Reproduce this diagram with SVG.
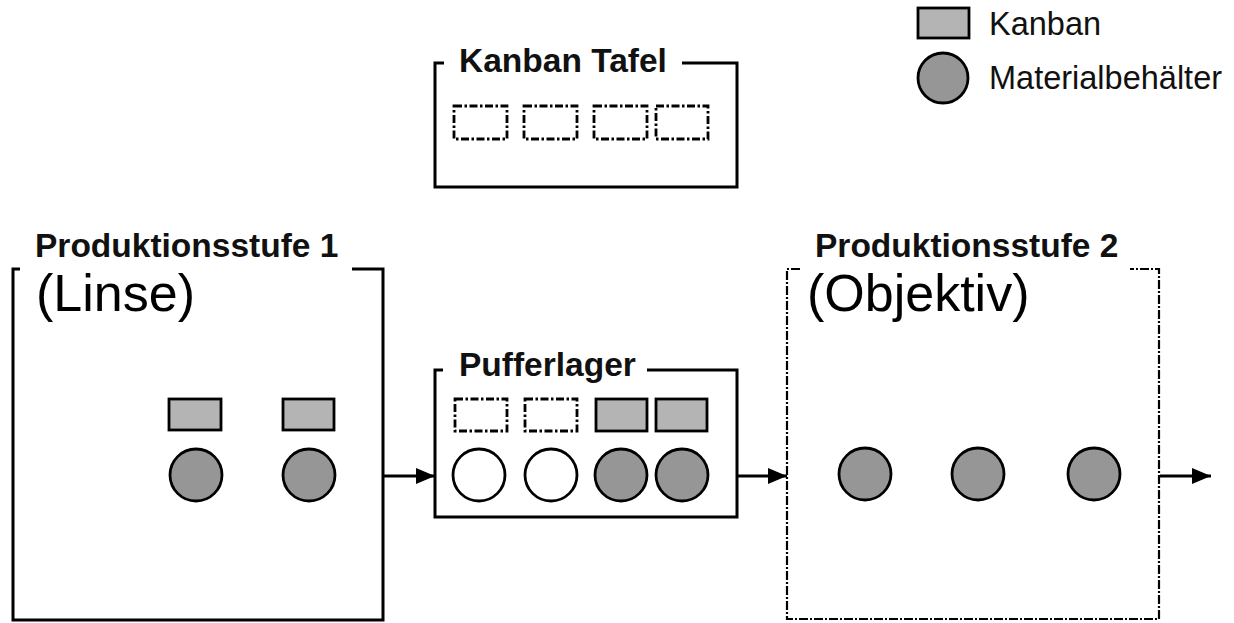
<svg xmlns="http://www.w3.org/2000/svg" width="1234" height="623" viewBox="0 0 1234 623">
<style>
.box{fill:none;stroke:#000;stroke-width:3}
.dbox{fill:none;stroke:#000;stroke-width:2.2;stroke-dasharray:9 2 2 2}
.kb{fill:#b4b4b4;stroke:#000;stroke-width:2.8}
.kbe{fill:#fff;stroke:#000;stroke-width:2.8;stroke-dasharray:8 2.5 2.5 2.5}
.mb{fill:#969696;stroke:#000;stroke-width:2.8}
.mbe{fill:#fff;stroke:#000;stroke-width:2.8}
.title{font-family:"Liberation Sans",Arial,sans-serif;font-weight:bold;font-size:33.5px;fill:#111}
.big{font-family:"Liberation Sans",Arial,sans-serif;font-size:52px;fill:#000}
.leg{font-family:"Liberation Sans",Arial,sans-serif;font-size:32.5px;fill:#111}
.conn{stroke:#000;stroke-width:3;fill:none}
</style>
<defs>
<marker id="arr" markerUnits="userSpaceOnUse" markerWidth="19" markerHeight="16" refX="19" refY="8" orient="auto">
<path d="M0,0 L19,8 L0,16 z" fill="#000"/>
</marker>
</defs>
<rect width="1234" height="623" fill="#fff"/>

<g id="legend">
<rect class="kb" x="918" y="8" width="51" height="30"/>
<text class="leg" x="989" y="35">Kanban</text>
<circle class="mb" cx="943" cy="78" r="25"/>
<text class="leg" x="989" y="89">Materialbehälter</text>
</g>

<g id="kanban-tafel">
<path class="box" d="M444,63 H435 V187 H737 V63 H682"/>
<text class="title" x="459" y="72">Kanban Tafel</text>
<rect class="kbe" x="454" y="106" width="53" height="33"/>
<rect class="kbe" x="524" y="106" width="53" height="33"/>
<rect class="kbe" x="594" y="106" width="53" height="33"/>
<rect class="kbe" x="656" y="106" width="52" height="33"/>
</g>

<g id="stufe1">
<path class="box" d="M20,269 H13 V620 H383 V269 H352"/>
<text class="title" x="35" y="257">Produktionsstufe 1</text>
<text class="big" x="36" y="311">(Linse)</text>
<rect class="kb" x="169" y="399" width="52" height="31"/>
<rect class="kb" x="283" y="399" width="51" height="31"/>
<circle class="mb" cx="196" cy="475" r="26"/>
<circle class="mb" cx="309" cy="475" r="26"/>
</g>

<g id="pufferlager">
<path class="box" d="M443,370 H435 V517 H737 V370 H647"/>
<text class="title" x="459" y="376">Pufferlager</text>
<rect class="kbe" x="455" y="399" width="52" height="32"/>
<rect class="kbe" x="525" y="399" width="52" height="32"/>
<rect class="kb" x="596" y="399" width="51" height="32"/>
<rect class="kb" x="656" y="399" width="51" height="32"/>
<circle class="mbe" cx="479" cy="475" r="26"/>
<circle class="mbe" cx="551" cy="475" r="26"/>
<circle class="mb" cx="621" cy="475" r="26"/>
<circle class="mb" cx="682" cy="475" r="26"/>
</g>

<g id="stufe2">
<path class="dbox" d="M800,269 H787 V619 H1159 V269 H1130"/>
<text class="title" x="815" y="257">Produktionsstufe 2</text>
<text class="big" x="807" y="311">(Objektiv)</text>
<circle class="mb" cx="865" cy="474" r="26"/>
<circle class="mb" cx="978" cy="474" r="26"/>
<circle class="mb" cx="1094" cy="474" r="26"/>
</g>

<g id="connectors">
<line class="conn" x1="384" y1="476" x2="435" y2="476" marker-end="url(#arr)"/>
<line class="conn" x1="738" y1="476" x2="787" y2="476" marker-end="url(#arr)"/>
<line class="conn" x1="1160" y1="476" x2="1211" y2="476" marker-end="url(#arr)"/>
</g>
</svg>
